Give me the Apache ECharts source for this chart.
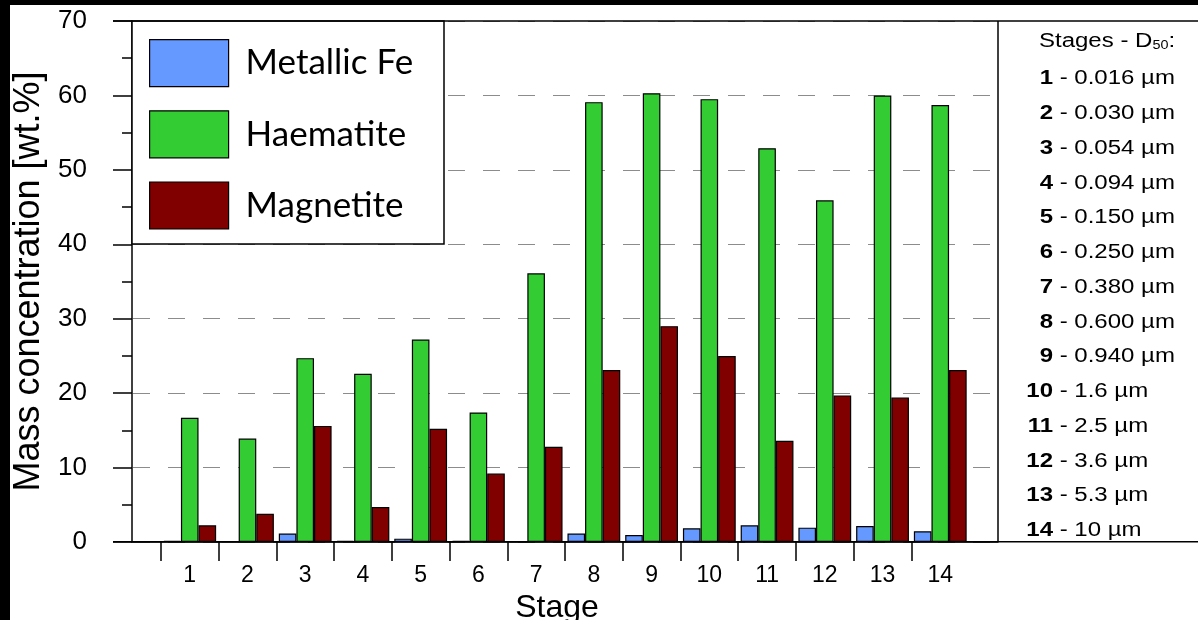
<!DOCTYPE html>
<html><head><meta charset="utf-8">
<script src="https://cdn.jsdelivr.net/npm/echarts@6/dist/echarts.min.js"></script>
<style>
html,body{margin:0;padding:0;background:#000;width:1198px;height:620px;overflow:hidden}
#c{position:absolute;left:10px;top:5px;width:1188px;height:615px;background:#fff}
</style>
</head><body><div id="c"></div>
<script>
const stages = ['1','2','3','4','5','6','7','8','9','10','11','12','13','14'];
const metallicFe = [0.15, 0.1, 1.13, 0.15, 0.45, 0.15, 0.1, 1.13, 0.95, 1.84, 2.24, 1.93, 2.15, 1.44];
const haematite = [16.7, 13.9, 24.7, 22.6, 27.2, 17.4, 36.1, 59.1, 60.3, 59.5, 52.9, 45.9, 60.0, 58.7];
const magnetite = [2.24, 3.8, 15.6, 4.7, 15.2, 9.2, 12.8, 23.1, 29.0, 25.0, 13.6, 19.7, 19.4, 23.1];
const d50 = ['0.016','0.030','0.054','0.094','0.150','0.250','0.380','0.600','0.940','1.6','2.5','3.6','5.3','10'];
const seriesNames = ['Metallic Fe','Haematite','Magnetite'];
const colors = ['#6699ff','#33cc33','#800000'];

const chart = echarts.init(document.getElementById('c'));
const AX = 'Liberation Sans, Arial, sans-serif';
const black = '#000';

const mk = (name, vals, color) => ({
  type:'bar', name, barWidth:17.6, barGap:'0%',
  data: stages.map((s,i)=>[i+1, vals[i]]),
  itemStyle:{color, borderColor:black, borderWidth:1.2},
  z:2
});

// right panel texts (horizontally stretched like the reference)
const SX = 1.2;
const panel = [];
panel.push({type:'text', x:1029, y:36, z:10, scaleX:SX, style:{
  text:'{a|Stages - D}{s|50}{a|:}', fill:black, verticalAlign:'middle',
  rich:{a:{fontSize:20, fontFamily:AX, fill:black, verticalAlign:'middle'}, s:{fontSize:12, fontFamily:AX, fill:black, verticalAlign:'bottom', padding:[10,0,0,0]}}
}});
stages.forEach((s,i)=>{
  const y = 73.8 + i*34.75;
  panel.push({type:'text', x:1043, y, z:10, scaleX:SX, style:{text:s, font:'bold 20px '+AX, fill:black, align:'right', verticalAlign:'middle'}});
  panel.push({type:'text', x:1043, y, z:10, scaleX:SX, style:{text:' - ' + d50[i] + ' \u00b5m', font:'20px '+AX, fill:black, align:'left', verticalAlign:'middle'}});
});

chart.setOption({
  animation:false,
  backgroundColor:'#fff',
  grid:{left:122, top:16, right:200, bottom:78, containLabel:false, outerBoundsMode:'none'},
  legend:{
    orient:'vertical', left:139, top:34, padding:0, itemWidth:79, itemHeight:47, itemGap:23,
    icon:'rect', z:12,
    itemStyle:{borderColor:black, borderWidth:1.2},
    textStyle:{fontSize:35, fontFamily:'Lato, Open Sans, sans-serif', color:black, padding:[0,0,0,12]},
    data: seriesNames
  },
  xAxis:{
    type:'value', min:0, max:15,
    name:'Stage', nameLocation:'middle', nameGap:50,
    nameTextStyle:{fontSize:32, fontFamily:AX, color:black, padding:[0,16,0,0]},
    axisLine:{show:true, onZero:false, lineStyle:{color:black, width:1.5}},
    axisTick:{show:true, length:19, customValues: stages.map((s,i)=>i+0.5), lineStyle:{color:black, width:1.5}},
    axisLabel:{show:true, customValues: stages.map((s,i)=>i+1), formatter:v=>stages[Math.round(v)-1], fontSize:23, fontFamily:AX, color:black, margin:22},
    splitLine:{show:false}
  },
  yAxis:{
    type:'value', min:0, max:70, interval:10,
    name:'Mass concentration [wt.%]', nameLocation:'middle', nameGap:84, nameRotate:90,
    nameTextStyle:{fontSize:36, fontFamily:AX, color:black},
    axisLine:{show:true, lineStyle:{color:black, width:1.5}},
    axisTick:{show:true, length:19, lineStyle:{color:black, width:1.5}},
    minorTick:{show:true, splitNumber:2, length:10, lineStyle:{color:black, width:1.5}},
    axisLabel:{fontSize:26, fontFamily:AX, color:black, margin:45},
    splitLine:{show:true, lineStyle:{color:'#8c8c8c', width:1, type:[17,18], dashOffset:-1}}
  },
  graphic:[
    {type:'rect', shape:{x:122, y:16, width:312, height:223}, style:{fill:'#fff', stroke:black, lineWidth:1.5}, z:5},
    {type:'line', shape:{x1:103, y1:16, x2:1188, y2:16}, style:{stroke:black, lineWidth:1.5}, z:6},
    {type:'line', shape:{x1:103, y1:536.8, x2:1188, y2:536.8}, style:{stroke:black, lineWidth:1.5}, z:6},
    {type:'line', shape:{x1:988, y1:16, x2:988, y2:536.8}, style:{stroke:black, lineWidth:1.5}, z:6},
    ...panel
  ],
  series:[
    mk(seriesNames[0], metallicFe, colors[0]),
    mk(seriesNames[1], haematite, colors[1]),
    mk(seriesNames[2], magnetite, colors[2])
  ]
});
</script></body></html>
